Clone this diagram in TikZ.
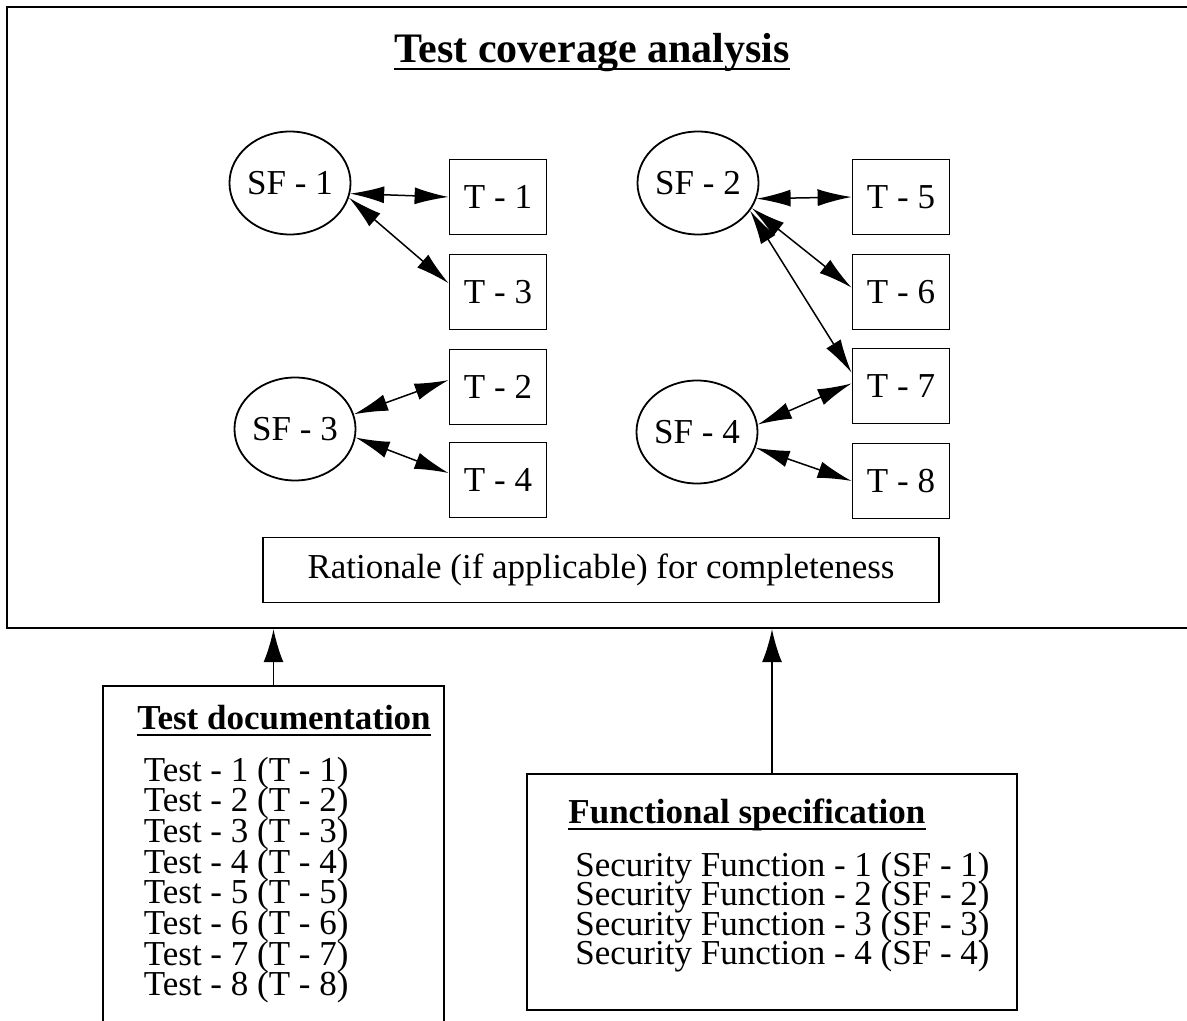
\documentclass[tikz,border=0pt]{standalone}
\usepackage{fontspec}
\setmainfont{Liberation Serif}
\usetikzlibrary{arrows.meta,shapes.geometric}

\begin{document}
\begin{tikzpicture}[x=0.5pt,y=-0.5pt,
   sfnode/.style={draw,ellipse,line width=0.9pt,minimum width=59pt,minimum height=51.5pt,inner sep=0pt},
   tnode/.style={draw,line width=0.9pt,minimum width=48.5pt,minimum height=37.5pt,inner sep=0pt},
   heading/.style={inner sep=0pt,font=\fontsize{17.5}{20}\selectfont\bfseries},
   uline/.style={line width=1.3pt},
   link/.style={<->,>={Latex[length=17pt,width=8.5pt]},line width=0.75pt},
   feed/.style={->,>={Latex[length=16.5pt,width=10pt]},line width=0.75pt},
   font=\fontsize{17.5}{15.3}\selectfont]
   \clip (0,0) rectangle (1187,1021);
   \useasboundingbox (0,0) rectangle (1187,1021);

   % coverage analysis frame
   \node[draw,line width=1.2pt,minimum width=595pt,minimum height=310.5pt] (coverage) at (602,317.5) {};
   \node[heading,anchor=base,font=\fontsize{21}{25}\selectfont\bfseries] (title) at (592,63) {Test coverage analysis};
   \draw[uline] ([yshift=-3pt]title.base west) -- ([yshift=-3pt]title.base east);

   \node[sfnode] (sf1) at (290,183) {SF - 1};
   \node[sfnode] (sf2) at (698,183) {SF - 2};
   \node[sfnode] (sf3) at (295,429) {SF - 3};
   \node[sfnode] (sf4) at (697,432) {SF - 4};

   \node[tnode] (t1) at (498,197) {T - 1};
   \node[tnode] (t3) at (498,292) {T - 3};
   \node[tnode] (t2) at (498,387) {T - 2};
   \node[tnode] (t4) at (498,480) {T - 4};
   \node[tnode] (t5) at (901,197) {T - 5};
   \node[tnode] (t6) at (901,292) {T - 6};
   \node[tnode] (t7) at (901,386) {T - 7};
   \node[tnode] (t8) at (901,481) {T - 8};

   \draw[link] (sf1.-10) -- (t1.west);
   \draw[link] (sf1.-14) -- (t3.170);
   \draw[link] (sf3.14) -- (t2.172);
   \draw[link] (sf3.-8) -- (t4.172);
   \draw[link] (sf2.-15) -- (t5.west);
   \draw[link] (sf2.-25) -- (t6.175);
   \draw[link] (sf2.-28) -- (t7.165);
   \draw[link] (sf4.7) -- (t7.177);
   \draw[link] (sf4.-15) -- (t8.west);

   \node[draw,line width=0.9pt,minimum width=338pt,minimum height=32.5pt] (rationale) at (601,570) {Rationale (if applicable) for completeness};

   % inputs
   \node[draw,line width=0.9pt,minimum width=170.5pt,minimum height=170pt] (testdoc) at (273.5,856) {};
   \node[heading,anchor=base west] (testdoctitle) at (137,729) {Test documentation};
   \draw[uline] ([yshift=-3pt]testdoctitle.base west) -- ([yshift=-3pt]testdoctitle.base east);
   \foreach \i in {1,...,8}
      \node[anchor=base west,inner sep=0pt] (test\i) at (143.5,{781+30.7*(\i-1)}) {Test - \i\ (T - \i)};

   \node[draw,line width=0.9pt,minimum width=245pt,minimum height=118pt] (funcspec) at (772,892) {};
   \node[heading,anchor=base west] (funcspectitle) at (568,823) {Functional specification};
   \draw[uline] ([yshift=-3pt]funcspectitle.base west) -- ([yshift=-3pt]funcspectitle.base east);
   \foreach \i in {1,...,4}
      \node[anchor=base west,inner sep=0pt] (secfn\i) at (575,{876+29.5*(\i-1)}) {Security Function - \i\ (SF - \i)};

   \draw[feed] (testdoc.north) -- (testdoc.north |- coverage.south);
   \draw[feed] (funcspec.north) -- (funcspec.north |- coverage.south);
\end{tikzpicture}
\end{document}
